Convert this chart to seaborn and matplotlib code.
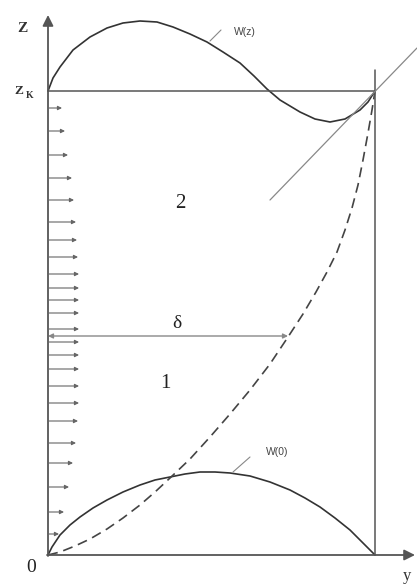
import numpy as np
import pandas as pd
import matplotlib
matplotlib.use("Agg")
import matplotlib.pyplot as plt
import seaborn as sn

# coordinates: y to the right from the origin, z up from the origin
wz_y = [0, 5, 12, 25, 42, 59, 75, 92, 109, 125, 142, 159, 175, 192, 206, 219, 232, 252, 267, 282, 297, 312, 320, 327]
wz_z = [464, 477, 488, 505, 518, 527, 532, 534, 533, 528, 521, 513, 503, 492, 479, 466, 455, 443, 436, 433, 436, 445, 453, 464]

w0_y = [0, 4, 12, 22, 32, 45, 59, 75, 92, 107, 122, 137, 152, 167, 182, 202, 222, 242, 257, 272, 287, 302, 314, 327]
w0_z = [0, 8, 20, 30, 38, 47, 55, 63, 70, 75, 78, 81, 83, 83, 82, 79, 73, 65, 57, 48, 37, 25, 13, 0]

delta_y = [0, 12, 27, 42, 59, 75, 92, 107, 122, 142, 162, 182, 202, 222, 240, 255, 268, 279, 289, 297, 304, 310, 315, 320, 324, 327]
delta_z = [0, 3, 9, 16, 26, 37, 50, 63, 77, 96, 118, 141, 165, 191, 218, 241, 263, 283, 303, 325, 347, 370, 395, 422, 445, 464]

# velocity profile arrows on the wall
arrow_z = [447, 424, 400, 377, 355, 333, 315, 298, 281, 267, 255, 242, 226, 213, 200, 186, 169, 152, 134, 112, 92, 68, 43, 21]
arrow_len = [14, 17, 20, 24, 26, 28, 29, 30, 31, 31, 31, 31, 31, 31, 31, 31, 31, 31, 30, 28, 25, 21, 16, 11]

z_k = 464
y_end = 327
delta_level = 219
delta_tip = 240

sn.set_style("white")
fig, ax = plt.subplots(figsize=(4.17, 5.85), dpi=100)
ax.set_position([0, 0, 1, 1])
ax.set_xlim(-48, 369)
ax.set_ylim(-30, 555)
ax.axis("off")

dark = "#333333"

wz = pd.DataFrame({"y": wz_y, "z": wz_z})
w0 = pd.DataFrame({"y": w0_y, "z": w0_z})
dl = pd.DataFrame({"y": delta_y, "z": delta_z})
sn.lineplot(data=wz, x="y", y="z", sort=False, estimator=None, color=dark, lw=1.2, ax=ax)
sn.lineplot(data=w0, x="y", y="z", sort=False, estimator=None, color=dark, lw=1.2, ax=ax)
sn.lineplot(data=dl, x="y", y="z", sort=False, estimator=None, color="#444444", lw=1.2,
            linestyle=(0, (6, 3.5)), ax=ax)

# frame lines
ax.plot([0, y_end], [z_k, z_k], color="#555555", lw=1.1)
ax.plot([y_end, y_end], [0, 485], color="#555555", lw=1.1)
ax.plot([222, 369], [355, 507], color="#888888", lw=0.9)

# axes with arrows
ax.annotate("", xy=(0, 540), xytext=(0, -1),
            arrowprops=dict(arrowstyle="-|>", color="#555555", lw=1.3, mutation_scale=16,
                            shrinkA=0, shrinkB=0))
ax.annotate("", xy=(367, 0), xytext=(-1, 0),
            arrowprops=dict(arrowstyle="-|>", color="#555555", lw=1.3, mutation_scale=16,
                            shrinkA=0, shrinkB=0))

for z, l in zip(arrow_z, arrow_len):
    ax.annotate("", xy=(l, z), xytext=(0, z),
                arrowprops=dict(arrowstyle="-|>", color="#666666", lw=0.8, mutation_scale=6,
                                shrinkA=0, shrinkB=0))

ax.annotate("", xy=(delta_tip, delta_level), xytext=(0, delta_level),
            arrowprops=dict(arrowstyle="<|-|>", color="#888888", lw=1.0, mutation_scale=7,
                            shrinkA=0, shrinkB=0))

# leader lines
ax.plot([162, 173], [514, 525], color="#888888", lw=0.8)
ax.plot([185, 202], [83, 98], color="#888888", lw=0.8)

serif = "Liberation Serif"
ax.text(-26, 527, "Z", family=serif, fontsize=11, fontweight="bold", color="#333333", ha="center", va="center")
ax.text(-29, 464, "Z", family=serif, fontsize=9.5, fontweight="bold", color="#333333", ha="center", va="center")
ax.text(-18, 460, "K", family=serif, fontsize=7, fontweight="bold", color="#333333", ha="center", va="center")
ax.text(-17, -12, "0", family=serif, fontsize=14, color="#222222", ha="center", va="center")
ax.text(359, -21, "y", family=serif, fontsize=12, color="#333333", ha="center", va="center")
ax.text(132, 352, "2", family=serif, fontsize=15, color="#222222", ha="center", va="center")
ax.text(117, 171, "1", family=serif, fontsize=15, color="#222222", ha="center", va="center")
ax.text(129, 232, "δ", family=serif, fontsize=14, color="#222222", ha="center", va="center")
ax.text(197, 523, "W(z)", family="Liberation Sans", fontsize=7.5, color="#444444", ha="center", va="center")
ax.text(229, 103, "W(0)", family="Liberation Sans", fontsize=7.5, color="#444444", ha="center", va="center")

plt.savefig("out.png", dpi=100)
